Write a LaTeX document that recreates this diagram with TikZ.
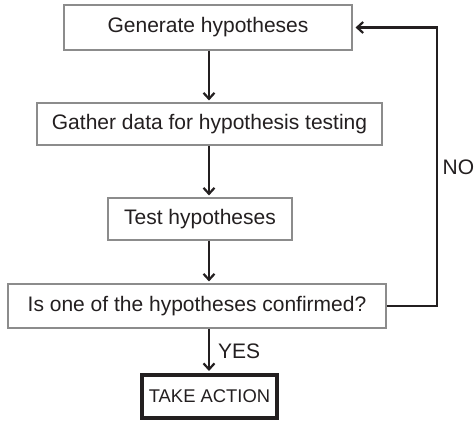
\documentclass[tikz,border=0pt]{standalone}
\usepackage{fontspec}
\setmainfont{Liberation Sans}
\usetikzlibrary{arrows.meta}
\definecolor{ink}{HTML}{231F20}
\definecolor{boxline}{HTML}{8C8C8C}
\begin{document}
\begin{tikzpicture}[x=1pt,y=-1pt,
  every node/.style={text=ink, font=\fontsize{21}{25}\selectfont},
  stepbox/.style={draw=boxline, line width=1.1pt, inner sep=0pt, anchor=center},
  endbox/.style={draw=ink, line width=4pt, inner sep=0pt, anchor=center, font=\fontsize{18.4}{22}\selectfont},
  arr/.style={draw=ink, line width=2.2pt, -{Straight Barb[length=6pt,width=11pt,line width=2.2pt]}, shorten >=2pt},
  lbl/.style={inner sep=0pt, anchor=west}]
\useasboundingbox (0,0) rectangle (475,422);
\fill[white] (0,0) rectangle (475,422);
\coordinate (col) at (209,0);
\coordinate (fb) at (437,0);
\node[stepbox, minimum width=288pt, minimum height=45pt] (b1) at (208,27.5) {Generate hypotheses};
\node[stepbox, minimum width=345pt, minimum height=42pt] (b2) at (209.5,124) {Gather data for hypothesis testing};
\node[stepbox, minimum width=184pt, minimum height=42pt] (b3) at (200,219) {Test hypotheses};
\node[stepbox, minimum width=378pt, minimum height=44pt] (b4) at (197,306) {Is one of the hypotheses confirmed?};
\node[endbox, minimum width=135pt, minimum height=43pt] (b5) at (209.5,396.5) {TAKE ACTION};
\draw[arr] (b1.south -| col) -- (b2.north -| col);
\draw[arr] (b2.south -| col) -- (b3.north -| col);
\draw[arr] (b3.south -| col) -- (b4.north -| col);
\draw[arr] (b4.south -| col) -- (b5.north -| col);
\draw[arr, shorten >=3pt] (b4.east) -- (b4.east -| fb) |- (b1.east);
\node[lbl] (no) at (442.5,167) {NO};
\node[lbl] (yes) at (218,351) {YES};
\end{tikzpicture}
\end{document}
